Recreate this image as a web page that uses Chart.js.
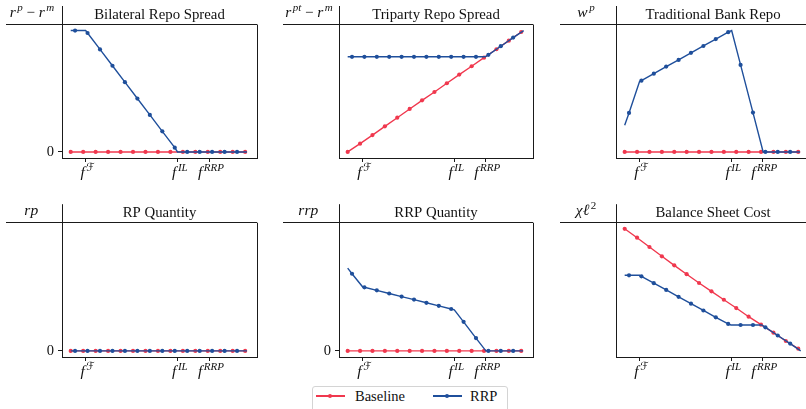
<html>
<head>
<meta charset="utf-8">
<script src="https://cdn.jsdelivr.net/npm/chart.js"></script>
<style>
  body { margin: 0; width: 806px; height: 409px; overflow: hidden; background: #fff; position: relative; }
  canvas { position: absolute; }
  #legend { position: absolute; left: 312px; top: 386px; width: 196px; height: 30px; border: 1px solid #d4d4d4; border-radius: 3px; box-sizing: border-box; }
  .key { position: absolute; height: 1.5px; width: 29px; }
  .dot { position: absolute; width: 4px; height: 4px; border-radius: 50%; }
  .lab { position: absolute; font: 14.5px "Liberation Serif", serif; color: #111; line-height: 16px; }
</style>
</head>
<body>
<canvas id="c0"></canvas>
<canvas id="c1"></canvas>
<canvas id="c2"></canvas>
<canvas id="c3"></canvas>
<canvas id="c4"></canvas>
<canvas id="c5"></canvas>
<div id="legend"></div>
<div class="key" style="left:316px;top:395px;background:#f0384e"></div>
<div class="dot" style="left:328px;top:393.7px;background:#f0384e"></div>
<div class="lab" style="left:355px;top:388px">Baseline</div>
<div class="key" style="left:433px;top:395px;background:#1f4f9b"></div>
<div class="dot" style="left:445px;top:393.7px;background:#1f4f9b"></div>
<div class="lab" style="left:470px;top:388px">RRP</div>

<script>
// x positions: Baseline markers, RRP markers, and the three marked thresholds
const xBase = [0, 1, 2, 3, 4, 5, 6, 7, 8, 9, 10, 11, 12, 13, 14];
const xRrp = [0.35, 1.35, 2.35, 3.35, 4.35, 5.35, 6.35, 7.35, 8.35, 9.35, 10.35, 11.35, 12.35, 13.35];
const tickX = [1.2, 8.6, 11.1];
const tickParts = [
  [['f', 'i'], ['ℱ', 's']],
  [['f', 'i'], ['IL', 's']],
  [['f', 'i'], ['RRP', 's']]
];

// Bilateral Repo Spread
const bilatBase = [0, 0, 0, 0, 0, 0, 0, 0, 0, 0, 0, 0, 0, 0, 0];
const bilatRrp = [1.0, 0.98, 0.845, 0.71, 0.575, 0.44, 0.305, 0.17, 0.035, 0, 0, 0, 0, 0];
const bilatRrpKinks = [[0, 1.0], [1.2, 1.0], [8.57, 0], [14.15, 0]];

// Triparty Repo Spread
const triBase = [0, 0.068, 0.139, 0.211, 0.282, 0.354, 0.425, 0.494, 0.566, 0.637, 0.706, 0.777, 0.846, 0.917, 0.988];
const triRrp = [0.784, 0.784, 0.784, 0.784, 0.784, 0.784, 0.784, 0.784, 0.784, 0.784, 0.784, 0.80, 0.871, 0.942];
const triRrpKinks = [[0, 0.784], [11.1, 0.784], [14.2, 1.0]];

// Traditional Bank Repo
const tradBase = [0, 0, 0, 0, 0, 0, 0, 0, 0, 0, 0, 0, 0, 0, 0];
const tradRrp = [0.321, 0.587, 0.645, 0.703, 0.758, 0.817, 0.873, 0.93, 0.987, 0.717, 0.324, 0, 0, 0];
const tradRrpKinks = [[0, 0.219], [1.2, 0.58], [8.63, 1.0], [11.17, 0], [14.15, 0]];

// RP Quantity
const rpBase = [0, 0, 0, 0, 0, 0, 0, 0, 0, 0, 0, 0, 0, 0, 0];
const rpRrp = [0, 0, 0, 0, 0, 0, 0, 0, 0, 0, 0, 0, 0, 0];
const rpRrpKinks = [[0, 0], [14.15, 0]];

// RRP Quantity
const rrpBase = [0, 0, 0, 0, 0, 0, 0, 0, 0, 0, 0, 0, 0, 0, 0];
const rrpRrp = [0.632, 0.521, 0.496, 0.47, 0.445, 0.42, 0.394, 0.369, 0.343, 0.238, 0.105, 0, 0, 0];
const rrpRrpKinks = [[0, 0.678], [1.2, 0.525], [8.6, 0.337], [11.15, 0], [14.15, 0]];

// Balance Sheet Cost
const bscBase = [1.0, 0.927, 0.851, 0.775, 0.701, 0.628, 0.556, 0.488, 0.419, 0.351, 0.28, 0.215, 0.149, 0.081, 0.018];
const bscRrp = [0.619, 0.611, 0.555, 0.499, 0.443, 0.387, 0.331, 0.275, 0.221, 0.212, 0.212, 0.193, 0.126, 0.06];
const bscRrpKinks = [[0, 0.619], [1.2, 0.619], [8.57, 0.212], [11.05, 0.212], [14.2, 0.0]];

const RED = '#f0384e';
const BLUE = '#1f4f9b';
const FONT = '"Liberation Serif", "DejaVu Serif", "DejaVu Sans", serif';

const panels = [
  { title: 'Bilateral Repo Spread', ylabel: [['r', 'i'], ['p', 's'], [' − ', 'r'], ['r', 'i'], ['m', 's']], base: bilatBase, rrp: bilatRrp, kinks: bilatRrpKinks, zero: true },
  { title: 'Triparty Repo Spread', ylabel: [['r', 'i'], ['pt', 's'], [' − ', 'r'], ['r', 'i'], ['m', 's']], base: triBase, rrp: triRrp, kinks: triRrpKinks, zero: false },
  { title: 'Traditional Bank Repo', ylabel: [['w', 'i'], ['p', 's']], base: tradBase, rrp: tradRrp, kinks: tradRrpKinks, zero: false },
  { title: 'RP Quantity', ylabel: [['rp', 'i']], base: rpBase, rrp: rpRrp, kinks: rpRrpKinks, zero: true },
  { title: 'RRP Quantity', ylabel: [['rrp', 'i']], base: rrpBase, rrp: rrpRrp, kinks: rrpRrpKinks, zero: true },
  { title: 'Balance Sheet Cost', ylabel: [['χℓ', 'i'], ['2', 'sr']], base: bscBase, rrp: bscRrp, kinks: bscRrpKinks, zero: false }
];

// canvas boxes: [left, top, width, height, yAxisWidth, padTop, padRight, xAxisHeight]
const boxes = [
  [0, 0, 270, 190, 62, 24.5, 13, 32],
  [270, 0, 270, 190, 69, 24.5, 7, 32],
  [540, 0, 280, 190, 76, 24.5, 10, 32],
  [0, 195, 270, 190, 62, 27.7, 13, 28],
  [270, 195, 270, 190, 69, 27.7, 7, 28],
  [540, 195, 280, 190, 76, 27.7, 10, 28]
];

const kindFont = {
  i: 'italic 15.5px ' + FONT,
  r: '15px ' + FONT,
  s: 'italic 11px ' + FONT,
  sr: '11px ' + FONT
};

function drawMath(ctx, parts, cx, baseline) {
  let total = 0;
  const widths = parts.map(([t, k]) => {
    ctx.font = kindFont[k];
    const w = ctx.measureText(t).width + (k === 'i' ? 1.5 : 0);
    total += w;
    return w;
  });
  let x = cx - total / 2;
  ctx.textAlign = 'left';
  parts.forEach(([t, k], i) => {
    ctx.font = kindFont[k];
    const raise = (k === 's' || k === 'sr') ? 6.5 : 0;
    ctx.fillText(t, x, baseline - raise);
    x += widths[i];
  });
}

const align = v => Math.round(v - 0.5) + 0.5;

const decor = {
  id: 'decor',
  afterDraw(chart, args, o) {
    const { ctx, chartArea: a, scales } = chart;
    ctx.save();
    ctx.strokeStyle = '#1a1a1a';
    ctx.lineWidth = 1;
    ctx.beginPath();
    ctx.moveTo(a.left - 56, align(a.top));
    ctx.lineTo(a.right, align(a.top));
    ctx.moveTo(align(a.left), a.top - 18.5);
    ctx.lineTo(align(a.left), a.top);
    ctx.moveTo(align(a.right), a.top);
    ctx.lineTo(align(a.right), a.bottom);
    ctx.stroke();
    ctx.fillStyle = '#111';
    ctx.font = '14.8px ' + FONT;
    ctx.textAlign = 'center';
    ctx.fillText(o.title, (a.left + a.right) / 2, a.top - 5.3);
    drawMath(ctx, o.ylabel, a.left - 30, a.top - 7.5);
    tickX.forEach((v, i) => drawMath(ctx, tickParts[i], scales.x.getPixelForValue(v) + 2, a.bottom + 19));
    ctx.restore();
  }
};

panels.forEach((p, i) => {
  const [left, top, w, h, yw, padTop, padRight, xh] = boxes[i];
  const cv = document.getElementById('c' + i);
  cv.width = w; cv.height = h;
  cv.style.left = left + 'px'; cv.style.top = top + 'px';
  cv.style.width = w + 'px'; cv.style.height = h + 'px';

  const rrpData = xRrp.map((x, j) => ({ x: x, y: p.rrp[j], m: 1 }))
    .concat(p.kinks.map(([x, y]) => ({ x: x, y: y, m: 0 })))
    .sort((a, b) => a.x - b.x);
  const baseData = xBase.map((x, j) => ({ x: x, y: p.base[j] }));

  new Chart(cv, {
    type: 'line',
    data: {
      datasets: [
        {
          label: 'RRP', data: rrpData, order: 0,
          borderColor: BLUE, backgroundColor: BLUE, borderWidth: 1.4,
          pointRadius: c => (c.raw && c.raw.m ? 2.1 : 0), pointBorderWidth: 0,
          pointBackgroundColor: BLUE, tension: 0
        },
        {
          label: 'Baseline', data: baseData, order: 1,
          borderColor: RED, backgroundColor: RED, borderWidth: 1.4,
          pointRadius: 2.1, pointBorderWidth: 0,
          pointBackgroundColor: RED, tension: 0
        }
      ]
    },
    options: {
      responsive: false,
      animation: false,
      devicePixelRatio: 1,
      layout: { padding: { top: padTop, right: padRight, left: 0, bottom: 0 } },
      plugins: {
        legend: { display: false },
        tooltip: { enabled: false },
        decor: { title: p.title, ylabel: p.ylabel }
      },
      scales: {
        x: {
          type: 'linear', min: -0.7, max: 14.95,
          afterBuildTicks: s => { s.ticks = tickX.map(v => ({ value: v })); },
          afterFit: s => { s.height = xh; },
          ticks: { display: false },
          grid: { drawOnChartArea: false, tickLength: 4, color: '#1a1a1a' },
          border: { display: true, color: '#1a1a1a', width: 1 }
        },
        y: {
          type: 'linear', min: -0.05, max: 1.05,
          afterBuildTicks: s => { s.ticks = p.zero ? [{ value: 0 }] : []; },
          afterFit: s => { s.width = yw; },
          ticks: { color: '#111', font: { family: FONT, size: 14.5 }, padding: 4, callback: v => String(v) },
          grid: { drawOnChartArea: false, tickLength: 4, color: '#1a1a1a' },
          border: { display: true, color: '#1a1a1a', width: 1 }
        }
      }
    },
    plugins: [decor]
  });
});
</script>
</body>
</html>
